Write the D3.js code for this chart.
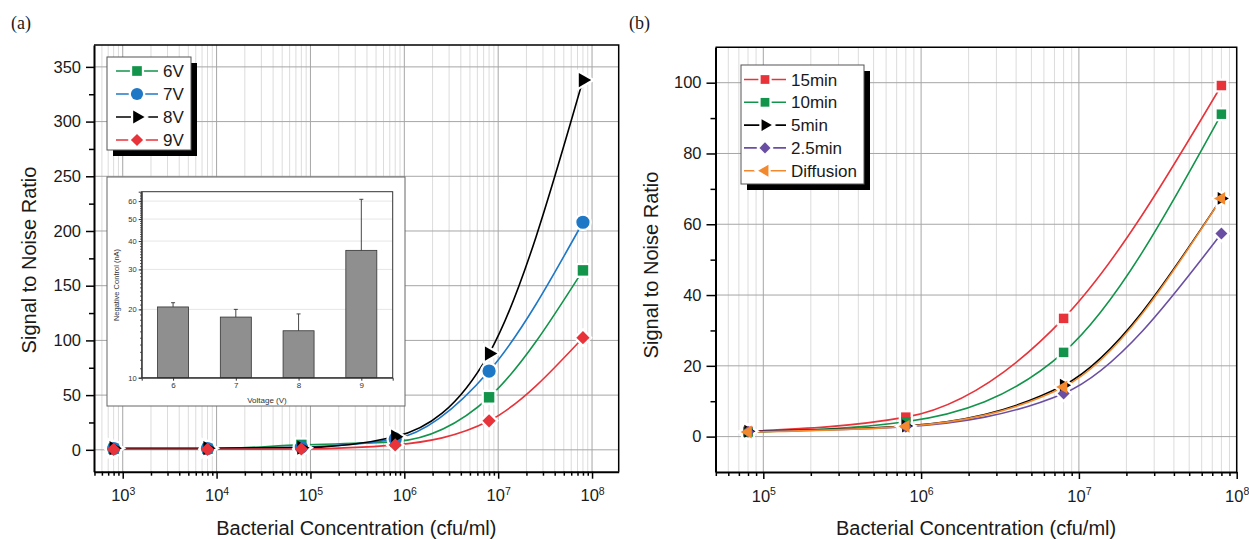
<!DOCTYPE html>
<html>
<head>
<meta charset="utf-8">
<script src="https://cdn.jsdelivr.net/npm/d3@7"></script>
<style>
  body { margin: 0; background: #fff; }
</style>
</head>
<body>
<script>
// ---- data ----
// panel (a): signal to noise vs concentration at different voltages
var concA = [8e2, 8e3, 8e4, 8e5, 8e6, 8e7];
var snr6V = [1.0, 1.0, 4.5, 7.5, 48, 164];
var snr7V = [1.2, 1.2, 2.5, 10, 72, 208];
var snr8V = [1.5, 1.5, 2.0, 12, 88, 338];
var snr9V = [0.5, 0.5, 0.8, 4.5, 26.5, 102.5];

// inset: negative control current per voltage (log axis)
var voltages = ["6", "7", "8", "9"];
var negCtrl = [20.5, 18.5, 16.1, 36.4];
var negErr = [0.9, 1.5, 3.0, 24.7];

// panel (b): signal to noise vs concentration at different times
var concB = [8e4, 8e5, 8e6, 8e7];
var snr15min = [1.5, 5.5, 33.4, 99.2];
var snr10min = [1.2, 4.2, 23.8, 91.1];
var snr5min = [1.5, 3.0, 14.5, 67.3];
var snr25min = [1.4, 2.8, 12.2, 57.4];
var snrDiff = [1.3, 2.9, 14.0, 67.3];

var yTicksA = [0, 50, 100, 150, 200, 250, 300, 350];
var yTicksB = [0, 20, 40, 60, 80, 100];
var insetTicks = [10, 20, 30, 40, 50, 60];

var width = 1249,
    height = 539;

var font = "'Liberation Sans', Arial, Helvetica, sans-serif";

var svg = d3.select("body").append("svg")
  .attr("width", width)
  .attr("height", height)
  .style("font-family", font);

var cGreen = "#12944a", cBlue = "#1f78c6", cBlack = "#000", cRed = "#e8333a",
    cPurple = "#6a4ea3", cOrange = "#f3892e";

var seriesA = [
  {name: "6V", color: cGreen, sym: "square", values: snr6V},
  {name: "7V", color: cBlue, sym: "circle", values: snr7V},
  {name: "8V", color: cBlack, sym: "triRight", values: snr8V},
  {name: "9V", color: cRed, sym: "diamond", values: snr9V}
];
var seriesB = [
  {name: "15min", color: cRed, sym: "square", values: snr15min},
  {name: "10min", color: cGreen, sym: "square", values: snr10min},
  {name: "5min", color: cBlack, sym: "triRight", values: snr5min},
  {name: "2.5min", color: cPurple, sym: "diamond", values: snr25min},
  {name: "Diffusion", color: cOrange, sym: "triLeft", values: snrDiff}
];

// marker shapes; halo=true draws only the white gap around it
function marker(g, sym, cx, cy, color, scale, halo) {
  var type = d3.symbolSquare, size = 100, rot = 0;
  if (sym == "circle") { type = d3.symbolCircle; size = 125; }
  if (sym == "triRight") { type = d3.symbolTriangle; size = 80; rot = 90; }
  if (sym == "triLeft") { type = d3.symbolTriangle; size = 80; rot = -90; }
  if (sym == "diamond") { size = 80; rot = 45; }
  var m = g.append("path")
    .attr("d", d3.symbol().type(type).size(size * scale)())
    .attr("transform", "translate(" + cx + "," + cy + ") rotate(" + rot + ")");
  if (halo) m.attr("fill", "#fff").attr("stroke", "#fff").attr("stroke-width", 4.5);
  else m.attr("fill", color);
}

function drawPanel(p) {
  var g = svg.append("g");
  var x = p.x, y = p.y;
  var xl = x.range()[0], xr = x.range()[1], yb = y.range()[0], yt = y.range()[1];
  var d0 = x.domain()[0], d1 = x.domain()[1];

  var lo = Math.floor(Math.log10(d0)), hi = Math.ceil(Math.log10(d1));
  var majorX = [], minorX = [];
  for (var e = lo; e <= hi; e++) {
    var v = Math.pow(10, e);
    if (v >= d0 && v <= d1 * 1.0001) majorX.push(v);
    for (var k = 2; k < 10; k++) {
      var m = k * Math.pow(10, e);
      if (m > d0 && m < d1) minorX.push(m);
    }
  }

  // grid
  g.selectAll(".mgx").data(minorX).enter().append("line")
    .attr("x1", d => x(d)).attr("x2", d => x(d))
    .attr("y1", yt).attr("y2", yb)
    .attr("stroke", "#dcdcdc").attr("stroke-width", 1);
  g.selectAll(".Mgx").data(majorX).enter().append("line")
    .attr("x1", d => x(d)).attr("x2", d => x(d))
    .attr("y1", yt).attr("y2", yb)
    .attr("stroke", "#a6a6a6").attr("stroke-width", 1);
  g.selectAll(".Mgy").data(p.yTicks).enter().append("line")
    .attr("x1", xl).attr("x2", xr)
    .attr("y1", d => y(d)).attr("y2", d => y(d))
    .attr("stroke", "#a6a6a6").attr("stroke-width", 1);

  // curves, then white gaps, then markers
  var line = d3.line()
    .x(d => x(d[0])).y(d => y(d[1]))
    .curve(d3.curveMonotoneX);
  p.series.forEach(function(s) {
    var pts = p.conc.map((c, i) => [c, s.values[i]]);
    g.append("path").attr("d", line(pts))
      .attr("fill", "none").attr("stroke", s.color).attr("stroke-width", 1.6);
  });
  [true, false].forEach(function(halo) {
    p.series.forEach(function(s) {
      p.conc.forEach(function(c, i) {
        marker(g, s.sym, x(c), y(s.values[i]), s.color, p.msize, halo);
      });
    });
  });

  // axes
  var yAxis = g.append("g").attr("transform", "translate(" + xl + ",0)")
    .call(d3.axisLeft(y).tickValues(p.yTicks).tickSize(p.tick).tickSizeOuter(0).tickPadding(5));
  yAxis.selectAll("text").attr("font-size", 16.5).attr("fill", "#1a1a1a").attr("font-family", font);
  g.append("g").attr("transform", "translate(" + xl + ",0)")
    .call(d3.axisLeft(y).tickValues(p.yMinor).tickSize(5).tickFormat(""))
    .select(".domain").remove();

  var xAxis = g.append("g").attr("transform", "translate(0," + yb + ")")
    .call(d3.axisBottom(x).tickValues(majorX).tickSize(7).tickSizeOuter(0).tickPadding(11));
  xAxis.selectAll(".tick text").each(function(d) {
    var t = d3.select(this).text("10")
      .attr("font-size", 16.5).attr("fill", "#1a1a1a").attr("font-family", font);
    t.append("tspan").attr("dy", "-0.6em").attr("font-size", 10.5).text(Math.round(Math.log10(d)));
  });
  g.append("g").attr("transform", "translate(0," + yb + ")")
    .call(d3.axisBottom(x).tickValues(minorX).tickSize(4).tickFormat(""))
    .select(".domain").remove();

  g.selectAll(".domain").attr("stroke-width", 2);
  g.selectAll(".tick line").attr("stroke-width", 1.5);

  // frame top / right
  g.append("path")
    .attr("d", "M" + xl + "," + yt + "H" + xr + "V" + yb)
    .attr("fill", "none").attr("stroke", "#000").attr("stroke-width", 1.5);

  // titles
  g.append("text")
    .attr("x", (xl + xr) / 2).attr("y", 535)
    .attr("text-anchor", "middle").attr("font-size", 20).attr("fill", "#1a1a1a")
    .text("Bacterial Concentration (cfu/ml)");
  g.append("text")
    .attr("transform", "translate(" + p.ytx + "," + p.yty + ") rotate(-90)")
    .attr("text-anchor", "middle").attr("font-size", 20).attr("fill", "#1a1a1a")
    .text("Signal to Noise Ratio");
  g.append("text")
    .attr("x", p.labx).attr("y", 29)
    .attr("font-family", "'Liberation Serif', 'Times New Roman', serif")
    .attr("font-size", 18).attr("fill", "#1a1a1a")
    .text(p.label);

  // legend
  var L = p.legend;
  var lg = g.append("g");
  lg.append("rect").attr("x", L.x + 6).attr("y", L.y + 6)
    .attr("width", L.w).attr("height", L.h).attr("fill", "#000");
  lg.append("rect").attr("x", L.x).attr("y", L.y)
    .attr("width", L.w).attr("height", L.h)
    .attr("fill", "#fff").attr("stroke", "#555").attr("stroke-width", 1);
  p.series.forEach(function(s, i) {
    var ry = L.y + L.first + i * L.step;
    var mx = (L.lx0 + L.lx1) / 2;
    lg.append("line").attr("x1", L.lx0).attr("x2", L.lx1)
      .attr("y1", ry).attr("y2", ry)
      .attr("stroke", s.color).attr("stroke-width", 1.6);
    marker(lg, s.sym, mx, ry, s.color, p.msize * 0.85, true);
    marker(lg, s.sym, mx, ry, s.color, p.msize * 0.85, false);
    lg.append("text").attr("x", L.tx).attr("y", ry).attr("dy", "0.36em")
      .attr("font-size", 17).attr("fill", "#1a1a1a").text(s.name);
  });
  return g;
}

// panel (a)
var xA = d3.scaleLog().domain([Math.pow(10, 2.694), Math.pow(10, 8.284)]).range([94, 618.7]);
var yA = d3.scaleLinear().domain([-20, 370]).range([471.7, 45]);
drawPanel({
  x: xA, y: yA, conc: concA, series: seriesA,
  yTicks: yTicksA, yMinor: d3.range(25, 370, 50), tick: 8, msize: 1.1,
  ytx: 36, yty: 260, labx: 11, label: "(a)",
  legend: {x: 107, y: 57, w: 84, h: 93, first: 14, step: 23, lx0: 116, lx1: 158, tx: 163}
});

// panel (b)
var xB = d3.scaleLog().domain([Math.pow(10, 4.697), 1e8]).range([715.5, 1236.7]);
var yB = d3.scaleLinear().domain([-10, 110]).range([472, 47.3]);
drawPanel({
  x: xB, y: yB, conc: concB, series: seriesB,
  yTicks: yTicksB, yMinor: d3.range(10, 110, 20), tick: 9, msize: 0.9,
  ytx: 658, yty: 265, labx: 629, label: "(b)",
  legend: {x: 741, y: 65, w: 123, h: 119, first: 14.5, step: 22.8, lx0: 744, lx1: 786, tx: 791}
});

// inset in panel (a)
var ig = svg.append("g");
ig.append("rect").attr("x", 107).attr("y", 177).attr("width", 298).attr("height", 229)
  .attr("fill", "#fff").attr("stroke", "#666").attr("stroke-width", 1);

var xi = d3.scalePoint().domain(voltages).range([141.7, 392.7]).padding(0.5);
var yi = d3.scaleLog().domain([10, 66]).range([377.7, 191.7]);

ig.selectAll(".igrid").data(insetTicks.slice(1)).enter().append("line")
  .attr("x1", 141.7).attr("x2", 392.7)
  .attr("y1", d => yi(d)).attr("y2", d => yi(d))
  .attr("stroke", "#e6e6e6");

ig.selectAll(".bar").data(negCtrl).enter().append("rect")
  .attr("x", (d, i) => xi(voltages[i]) - 15.5)
  .attr("width", 31)
  .attr("y", d => yi(d))
  .attr("height", d => yi(10) - yi(d))
  .attr("fill", "#8f8f8f").attr("stroke", "#333").attr("stroke-width", 0.8);

negCtrl.forEach(function(d, i) {
  var cx = xi(voltages[i]);
  ig.append("line").attr("x1", cx).attr("x2", cx)
    .attr("y1", yi(d)).attr("y2", yi(d + negErr[i]))
    .attr("stroke", "#333").attr("stroke-width", 0.9);
  ig.append("line").attr("x1", cx - 2).attr("x2", cx + 2)
    .attr("y1", yi(d + negErr[i])).attr("y2", yi(d + negErr[i]))
    .attr("stroke", "#333").attr("stroke-width", 0.9);
});

ig.append("rect").attr("x", 141.7).attr("y", 191.7).attr("width", 251).attr("height", 186)
  .attr("fill", "none").attr("stroke", "#333").attr("stroke-width", 1);

var iy = ig.append("g").attr("transform", "translate(141.7,0)")
  .call(d3.axisLeft(yi).tickValues(insetTicks).tickFormat(d3.format("d")).tickSize(3).tickPadding(2));
iy.selectAll("text").attr("font-size", 7.5).attr("fill", "#333").attr("font-family", font);
ig.append("g").attr("transform", "translate(141.7,0)")
  .call(d3.axisLeft(yi).tickValues(d3.range(11, 66)).tickSize(1.5).tickFormat(""))
  .select(".domain").remove();
var ix = ig.append("g").attr("transform", "translate(0,377.7)")
  .call(d3.axisBottom(xi).tickSize(3).tickPadding(2));
ix.selectAll("text").attr("font-size", 8).attr("fill", "#333").attr("font-family", font);
ig.selectAll(".domain").attr("stroke", "#333");
ig.selectAll(".tick line").attr("stroke", "#333");

ig.append("text").attr("x", 267).attr("y", 403)
  .attr("text-anchor", "middle").attr("font-size", 8).attr("fill", "#333")
  .text("Voltage (V)");
ig.append("text").attr("transform", "translate(119,285) rotate(-90)")
  .attr("text-anchor", "middle").attr("font-size", 7.5).attr("fill", "#333")
  .text("Negative Control (nA)");
</script>
</body>
</html>
